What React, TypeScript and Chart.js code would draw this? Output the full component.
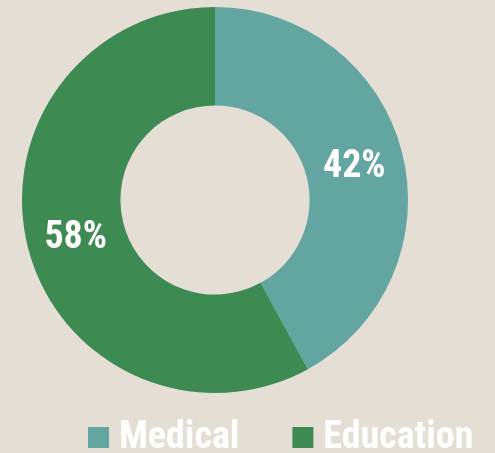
import React, { useEffect, useRef } from "react";
import { Chart, registerables } from "chart.js";

Chart.register(...registerables);

const categories = ["Medical", "Education"];
const values = [42, 58];
const valueLabels = ["42%", "58%"];
const colors = ["#62A5A1", "#3D8A53"];

const BG = "#E4DED4";
const FONT = "'Liberation Sans Narrow', 'Roboto Condensed', 'Arial Narrow', Roboto, sans-serif";

const labelPlugin = {
  id: "sliceLabels",
  afterDatasetsDraw(chart: any) {
    const ctx = chart.ctx;
    const meta = chart.getDatasetMeta(0);
    ctx.save();
    ctx.fillStyle = "#FFFFFF";
    ctx.font = `bold 38px ${FONT}`;
    ctx.textAlign = "center";
    ctx.textBaseline = "middle";
    meta.data.forEach((arc: any, i: number) => {
      const p = arc.getCenterPoint();
      ctx.fillText(valueLabels[i], p.x, p.y + 3);
    });
    ctx.restore();
  },
};

const legendPlugin = {
  id: "customLegend",
  afterDraw(chart: any) {
    const ctx = chart.ctx;
    ctx.save();
    ctx.font = `bold 38px ${FONT}`;
    ctx.textBaseline = "alphabetic";
    ctx.textAlign = "left";
    let x = 88;
    const boxTop = 427;
    const box = 21;
    const gap = 10;
    const spacing = 53;
    categories.forEach((c, i) => {
      ctx.fillStyle = colors[i];
      ctx.fillRect(x, boxTop, box, box);
      ctx.fillStyle = "#FFFFFF";
      ctx.fillText(c, x + box + gap, 448);
      x += box + gap + ctx.measureText(c).width + spacing;
    });
    ctx.restore();
  },
};

export default function App() {
  const ref = useRef<HTMLCanvasElement>(null);
  useEffect(() => {
    const chart = new Chart(ref.current!, {
      type: "doughnut",
      data: {
        labels: categories,
        datasets: [
          {
            data: values,
            backgroundColor: colors,
            borderWidth: 0,
          },
        ],
      },
      options: {
        responsive: false,
        animation: false,
        cutout: "49%",
        layout: { padding: { left: 22, right: 87, top: 7, bottom: 60 } },
        plugins: {
          legend: { display: false },
          tooltip: { enabled: false },
        },
      },
      plugins: [labelPlugin, legendPlugin],
    });
    return () => chart.destroy();
  }, []);
  return (
    <div
      style={{
        position: "fixed",
        left: 0,
        top: 0,
        width: 495,
        height: 453,
        background: BG,
        overflow: "hidden",
      }}
    >
      <canvas ref={ref} width={495} height={453} style={{ display: "block" }} />
    </div>
  );
}
